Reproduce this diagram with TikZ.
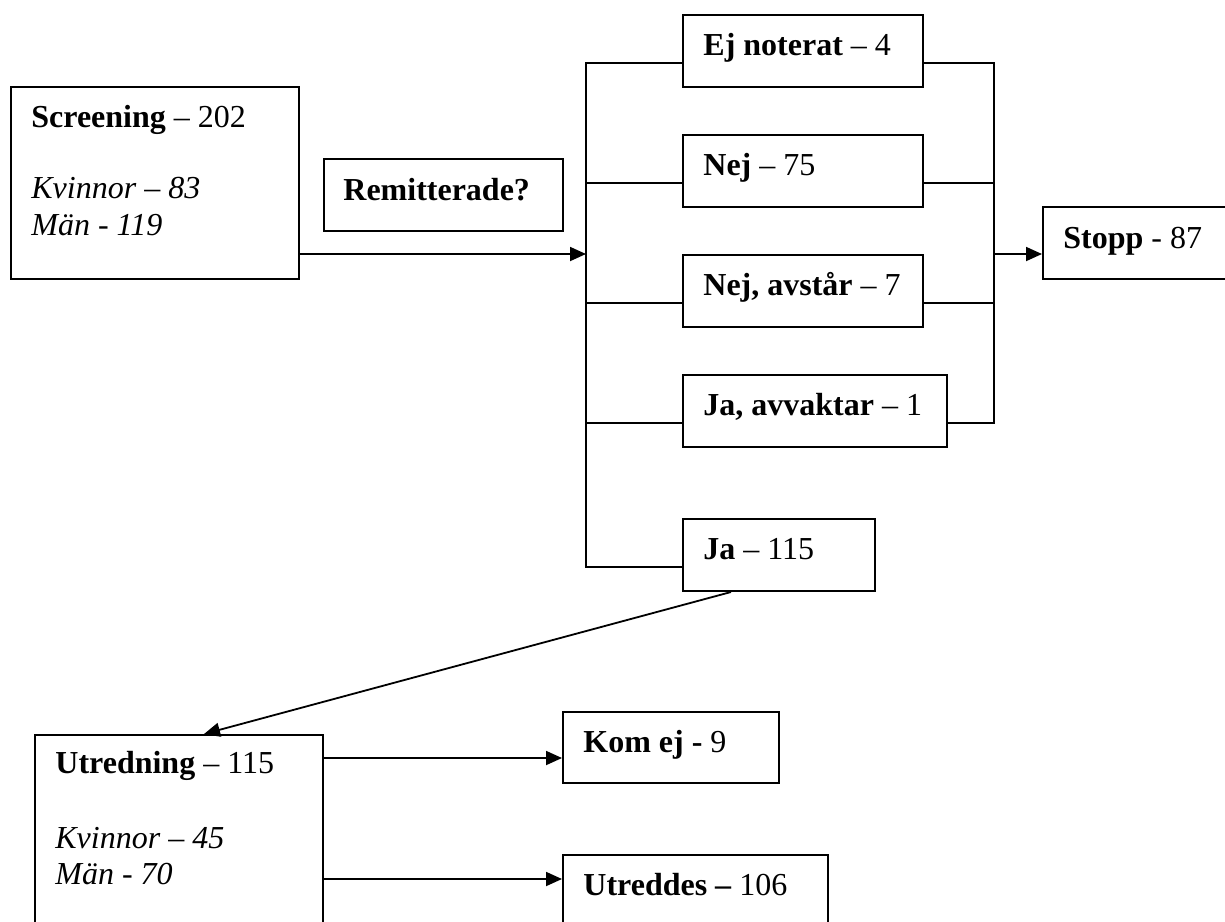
\documentclass[tikz,border=0pt]{standalone}
\usepackage{fontspec}
\setmainfont{Liberation Serif}
\usetikzlibrary{arrows.meta,calc}
\begin{document}
\begin{tikzpicture}[x=0.5pt,y=-0.5pt,
  box/.style={draw,line width=1pt,rectangle,inner sep=0pt,anchor=north west},
  lbl/.style={anchor=base west,inner sep=0pt,font=\fontsize{16}{18.5}\selectfont},
  conn/.style={line width=0.9pt},
  arr/.style={line width=0.9pt,-{Triangle[length=8pt,width=7pt]}}]
\useasboundingbox (0,0) rectangle (1225,921);
\clip (0,0) rectangle (1225,921);
% boxes
\node[box,minimum width=144pt,minimum height=96pt] (scr) at (10,86) {};
\node[box,minimum width=119.5pt,minimum height=36pt] (rem) at (323,158) {};
\node[box,minimum width=120pt,minimum height=36pt] (en) at (682,14) {};
\node[box,minimum width=120pt,minimum height=36pt] (nej) at (682,134) {};
\node[box,minimum width=120pt,minimum height=36pt] (nav) at (682,254) {};
\node[box,minimum width=132pt,minimum height=36pt] (jav) at (682,374) {};
\node[box,minimum width=96pt,minimum height=36pt] (ja) at (682,518) {};
\node[box,minimum width=110pt,minimum height=36pt] (stopp) at (1042,206) {};
\node[box,minimum width=144pt,minimum height=110pt] (utr) at (34,734) {};
\node[box,minimum width=108pt,minimum height=35.5pt] (kom) at (562,711) {};
\node[box,minimum width=132.5pt,minimum height=50pt] (utd) at (562,854) {};
% texts
\node[lbl] (scrT) at ($(scr.north west)+(21,41)$) {\textbf{Screening} – 202};
\node[lbl] (scrK) at ($(scr.north west)+(21,112)$) {\textit{Kvinnor – 83}};
\node[lbl] (scrM) at ($(scr.north west)+(21,149)$) {\textit{Män - 119}};
\node[lbl] (remT) at ($(rem.north west)+(20,42)$) {\textbf{Remitterade?}};
\node[lbl] (enT) at ($(en.north west)+(21,41)$) {\textbf{Ej noterat} – 4};
\node[lbl] (nejT) at ($(nej.north west)+(21,41)$) {\textbf{Nej} – 75};
\node[lbl] (navT) at ($(nav.north west)+(21,41)$) {\textbf{Nej, avstår} – 7};
\node[lbl] (javT) at ($(jav.north west)+(21,41)$) {\textbf{Ja, avvaktar} – 1};
\node[lbl] (jaT) at ($(ja.north west)+(21,41)$) {\textbf{Ja} – 115};
\node[lbl] (stoppT) at ($(stopp.north west)+(21,42)$) {\textbf{Stopp} - 87};
\node[lbl] (utrT) at ($(utr.north west)+(21,39)$) {\textbf{Utredning} – 115};
\node[lbl] (utrK) at ($(utr.north west)+(21,114)$) {\textit{Kvinnor – 45}};
\node[lbl] (utrM) at ($(utr.north west)+(21,150)$) {\textit{Män - 70}};
\node[lbl] (komT) at ($(kom.north west)+(21,41)$) {\textbf{Kom ej -} 9};
\node[lbl] (utdT) at ($(utd.north west)+(21,41)$) {\textbf{Utreddes –} 106};
% helper coordinates
\coordinate (bl) at (586,0);
\coordinate (br) at (994,0);
\coordinate (ys) at (0,254);
\coordinate (yk) at (0,758);
\coordinate (yu) at (0,879);
% left bus
\draw[conn] ([yshift=-6pt]en.west) -- ([yshift=-6pt]en.west -| bl) -- ([yshift=-6pt]ja.west -| bl) -- ([yshift=-6pt]ja.west);
\draw[conn] ([yshift=-6pt]nej.west) -- ([yshift=-6pt]nej.west -| bl);
\draw[conn] ([yshift=-6pt]nav.west) -- ([yshift=-6pt]nav.west -| bl);
\draw[conn] ([yshift=-6pt]jav.west) -- ([yshift=-6pt]jav.west -| bl);
% right bus
\draw[conn] ([yshift=-6pt]en.east) -- ([yshift=-6pt]en.east -| br) -- ([yshift=-6pt]jav.east -| br) -- ([yshift=-6pt]jav.east);
\draw[conn] ([yshift=-6pt]nej.east) -- ([yshift=-6pt]nej.east -| br);
\draw[conn] ([yshift=-6pt]nav.east) -- ([yshift=-6pt]nav.east -| br);
% arrows
\draw[arr] (scr.east |- ys) -- (bl |- ys);
\draw[arr] (br |- ys) -- (stopp.west |- ys);
\draw[arr] ([xshift=-24pt]ja.south) -- ([xshift=12.5pt]utr.north);
\draw[arr] (utr.east |- yk) -- (kom.west |- yk);
\draw[arr] (utr.east |- yu) -- (utd.west |- yu);
\end{tikzpicture}
\end{document}
